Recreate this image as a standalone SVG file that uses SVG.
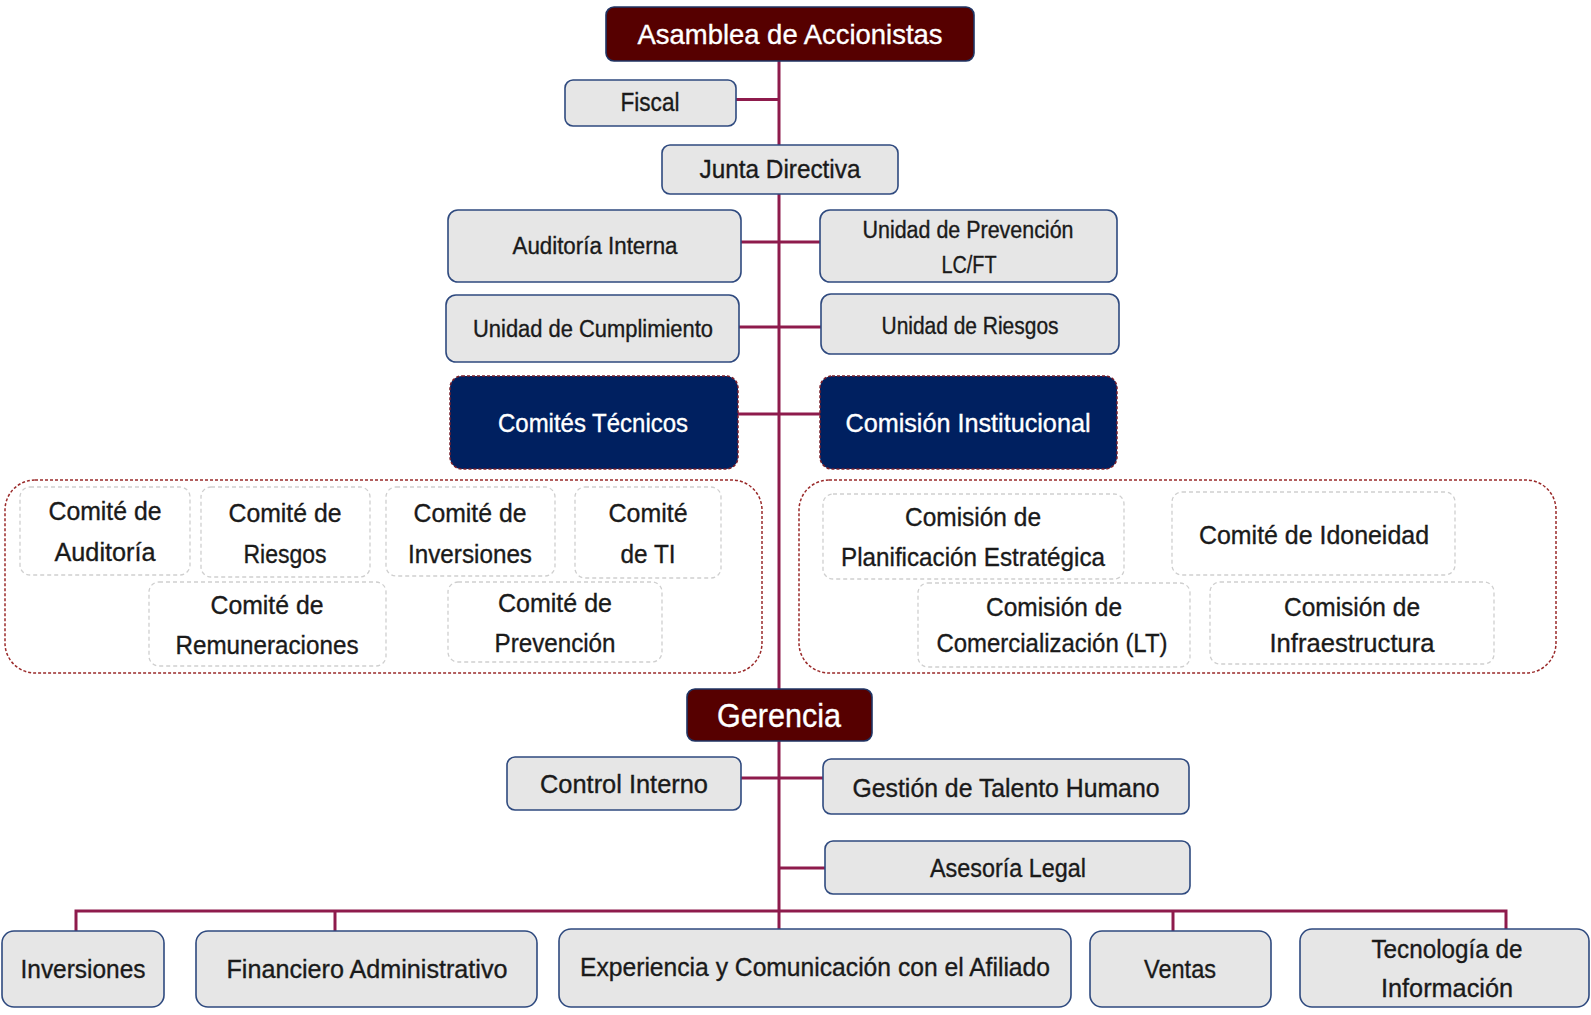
<svg xmlns="http://www.w3.org/2000/svg" width="1591" height="1015" viewBox="0 0 1591 1015">
<style>
text{font-family:"Liberation Sans",Arial,sans-serif;fill:#1a1a1a;stroke:#1a1a1a;stroke-width:0.35;text-anchor:middle}
.w{fill:#ffffff;stroke:#ffffff}
.box{fill:#e6e6e6;stroke:#2f4a7f;stroke-width:1.6}
.top{fill:#560000;stroke:#1f3464;stroke-width:1.6}
.navy{fill:#002060;stroke:#7a1f2a;stroke-width:1.5;stroke-dasharray:3 2}
.cont{fill:none;stroke:#9a2a2a;stroke-width:1.5;stroke-dasharray:3 2}
.inner{fill:#ffffff;stroke:#cfcfcf;stroke-width:1.3;stroke-dasharray:4 3}
.con{fill:none;stroke:#8e1b4c;stroke-width:3}
.f22{font-size:23px}.f24{font-size:25px}.f25{font-size:26px}.f26{font-size:26px}.f28{font-size:28px}.f32{font-size:33px}
</style>
<g id="connectors">
<path class="con" d="M779,61 V929"/>
<path class="con" d="M736,99.5 H779"/>
<path class="con" d="M741,242 H820"/>
<path class="con" d="M739,327 H821"/>
<path class="con" d="M738,414 H820"/>
<path class="con" d="M741,778 H823"/>
<path class="con" d="M779,868 H825"/>
<path class="con" d="M76,931 V911 H1506 V931"/>
<path class="con" d="M335,911 V931"/>
<path class="con" d="M1173,911 V931"/>
</g>
<g id="asamblea"><rect class="top" x="606" y="7" width="368" height="54" rx="8"/><text class="w f28" x="790" y="44" textLength="305" lengthAdjust="spacingAndGlyphs">Asamblea de Accionistas</text></g>
<g id="fiscal"><rect class="box" x="565" y="80" width="171" height="46" rx="8"/><text class="f24" x="650" y="111" textLength="59" lengthAdjust="spacingAndGlyphs">Fiscal</text></g>
<g id="junta"><rect class="box" x="662" y="145" width="236" height="49" rx="8"/><text class="f24" x="780" y="178" textLength="161" lengthAdjust="spacingAndGlyphs">Junta Directiva</text></g>
<g id="auditoria-interna"><rect class="box" x="448" y="210" width="293" height="72" rx="10"/><text class="f22" x="595" y="253.5" textLength="165" lengthAdjust="spacingAndGlyphs">Auditoría Interna</text></g>
<g id="unidad-prevencion"><rect class="box" x="820" y="210" width="297" height="72" rx="10"/><text class="f22" x="968" y="237.5" textLength="211" lengthAdjust="spacingAndGlyphs">Unidad de Prevención</text><text class="f22" x="969" y="272.5" textLength="55" lengthAdjust="spacingAndGlyphs">LC/FT</text></g>
<g id="unidad-cumplimiento"><rect class="box" x="446" y="295" width="293" height="67" rx="10"/><text class="f22" x="593" y="336.5" textLength="240" lengthAdjust="spacingAndGlyphs">Unidad de Cumplimiento</text></g>
<g id="unidad-riesgos"><rect class="box" x="821" y="294" width="298" height="60" rx="10"/><text class="f22" x="970" y="333.5" textLength="177" lengthAdjust="spacingAndGlyphs">Unidad de Riesgos</text></g>
<g id="comites-tecnicos"><rect class="navy" x="450" y="376" width="288" height="93" rx="12"/><text class="w f24" x="593" y="431.5" textLength="190" lengthAdjust="spacingAndGlyphs">Comités Técnicos</text></g>
<g id="comision-institucional"><rect class="navy" x="820" y="376" width="297" height="93" rx="12"/><text class="w f24" x="968" y="431.5" textLength="245" lengthAdjust="spacingAndGlyphs">Comisión Institucional</text></g>
<g id="grupo-comites"><rect class="cont" x="5" y="480" width="757" height="193" rx="30"/></g>
<g id="comite-auditoria"><rect class="inner" x="20" y="487" width="170" height="88" rx="10"/><text class="f25" x="105" y="519.5" textLength="113" lengthAdjust="spacingAndGlyphs">Comité de</text><text class="f25" x="105" y="560.5" textLength="101" lengthAdjust="spacingAndGlyphs">Auditoría</text></g>
<g id="comite-riesgos"><rect class="inner" x="201" y="487" width="169" height="90" rx="10"/><text class="f25" x="285" y="521.5" textLength="113" lengthAdjust="spacingAndGlyphs">Comité de</text><text class="f25" x="285" y="562.5" textLength="83" lengthAdjust="spacingAndGlyphs">Riesgos</text></g>
<g id="comite-inversiones"><rect class="inner" x="386" y="487" width="169" height="89" rx="10"/><text class="f25" x="470" y="521.5" textLength="113" lengthAdjust="spacingAndGlyphs">Comité de</text><text class="f25" x="470" y="562.5" textLength="124" lengthAdjust="spacingAndGlyphs">Inversiones</text></g>
<g id="comite-ti"><rect class="inner" x="575" y="487" width="146" height="91" rx="10"/><text class="f25" x="648" y="521.5" textLength="79" lengthAdjust="spacingAndGlyphs">Comité</text><text class="f25" x="648" y="562.5" textLength="55" lengthAdjust="spacingAndGlyphs">de TI</text></g>
<g id="comite-remuneraciones"><rect class="inner" x="149" y="582" width="237" height="84" rx="10"/><text class="f25" x="267" y="613.5" textLength="113" lengthAdjust="spacingAndGlyphs">Comité de</text><text class="f25" x="267" y="653.5" textLength="183" lengthAdjust="spacingAndGlyphs">Remuneraciones</text></g>
<g id="comite-prevencion"><rect class="inner" x="448" y="582" width="214" height="80" rx="10"/><text class="f25" x="555" y="611.5" textLength="114" lengthAdjust="spacingAndGlyphs">Comité de</text><text class="f25" x="555" y="651.5" textLength="121" lengthAdjust="spacingAndGlyphs">Prevención</text></g>
<g id="grupo-comisiones"><rect class="cont" x="799" y="480" width="757" height="193" rx="30"/></g>
<g id="comision-planificacion"><rect class="inner" x="823" y="494" width="301" height="85" rx="10"/><text class="f25" x="973" y="525.5" textLength="136" lengthAdjust="spacingAndGlyphs">Comisión de</text><text class="f25" x="973" y="565.5" textLength="264" lengthAdjust="spacingAndGlyphs">Planificación Estratégica</text></g>
<g id="comite-idoneidad"><rect class="inner" x="1172" y="492" width="283" height="83" rx="10"/><text class="f25" x="1314" y="543.5" textLength="230" lengthAdjust="spacingAndGlyphs">Comité de Idoneidad</text></g>
<g id="comision-comercializacion"><rect class="inner" x="918" y="583" width="272" height="84" rx="10"/><text class="f25" x="1054" y="615.5" textLength="136" lengthAdjust="spacingAndGlyphs">Comisión de</text><text class="f25" x="1052" y="651.5" textLength="231" lengthAdjust="spacingAndGlyphs">Comercialización (LT)</text></g>
<g id="comision-infraestructura"><rect class="inner" x="1210" y="582" width="284" height="82" rx="10"/><text class="f25" x="1352" y="615.5" textLength="136" lengthAdjust="spacingAndGlyphs">Comisión de</text><text class="f25" x="1352" y="651.5" textLength="165" lengthAdjust="spacingAndGlyphs">Infraestructura</text></g>
<g id="gerencia"><rect class="top" x="687" y="689" width="185" height="52" rx="8"/><text class="w f32" x="779" y="726.5" textLength="124" lengthAdjust="spacingAndGlyphs">Gerencia</text></g>
<g id="control-interno"><rect class="box" x="507" y="757" width="234" height="53" rx="8"/><text class="f24" x="624" y="792.5" textLength="168" lengthAdjust="spacingAndGlyphs">Control Interno</text></g>
<g id="talento-humano"><rect class="box" x="823" y="759" width="366" height="55" rx="8"/><text class="f24" x="1006" y="796.5" textLength="307" lengthAdjust="spacingAndGlyphs">Gestión de Talento Humano</text></g>
<g id="asesoria-legal"><rect class="box" x="825" y="841" width="365" height="53" rx="8"/><text class="f24" x="1008" y="876.5" textLength="156" lengthAdjust="spacingAndGlyphs">Asesoría Legal</text></g>
<g id="inversiones"><rect class="box" x="2" y="931" width="162" height="76" rx="12"/><text class="f26" x="83" y="977.5" textLength="125" lengthAdjust="spacingAndGlyphs">Inversiones</text></g>
<g id="financiero"><rect class="box" x="196" y="931" width="341" height="76" rx="12"/><text class="f26" x="367" y="977.5" textLength="281" lengthAdjust="spacingAndGlyphs">Financiero Administrativo</text></g>
<g id="experiencia"><rect class="box" x="559" y="929" width="512" height="78" rx="12"/><text class="f26" x="815" y="975.5" textLength="470" lengthAdjust="spacingAndGlyphs">Experiencia y Comunicación con el Afiliado</text></g>
<g id="ventas"><rect class="box" x="1090" y="931" width="181" height="76" rx="12"/><text class="f26" x="1180" y="977.5" textLength="72" lengthAdjust="spacingAndGlyphs">Ventas</text></g>
<g id="tecnologia"><rect class="box" x="1300" y="929" width="289" height="78" rx="12"/><text class="f26" x="1447" y="957.5" textLength="151" lengthAdjust="spacingAndGlyphs">Tecnología de</text><text class="f26" x="1447" y="996.5" textLength="132" lengthAdjust="spacingAndGlyphs">Información</text></g>
</svg>
